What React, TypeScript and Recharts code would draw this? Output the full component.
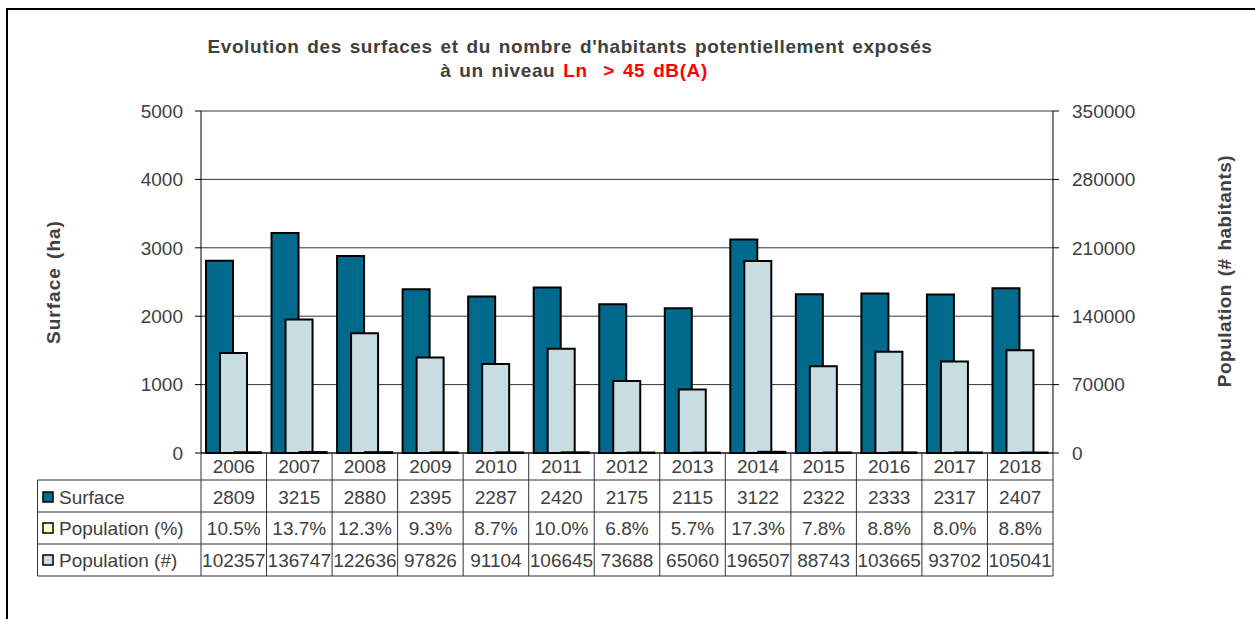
import { BarChart, Bar, XAxis, YAxis, CartesianGrid } from 'recharts'

const years = ['2006', '2007', '2008', '2009', '2010', '2011', '2012', '2013', '2014', '2015', '2016', '2017', '2018']
const surface = [2809, 3215, 2880, 2395, 2287, 2420, 2175, 2115, 3122, 2322, 2333, 2317, 2407]
const popPct = [10.5, 13.7, 12.3, 9.3, 8.7, 10.0, 6.8, 5.7, 17.3, 7.8, 8.8, 8.0, 8.8]
const popNb = [102357, 136747, 122636, 97826, 91104, 106645, 73688, 65060, 196507, 88743, 103665, 93702, 105041]
const leftTicks = [0, 1000, 2000, 3000, 4000, 5000]
const rightTicks = [0, 70000, 140000, 210000, 280000, 350000]

const data = years.map((year, i) => ({
  year,
  surface: surface[i],
  popPct: popPct[i],
  popNb: popNb[i],
}))

const TEXT = '#404040'
const FONT = '"Liberation Sans", Arial, sans-serif'
const TEAL = '#006a8c'
const LIGHT = '#c8dde1'
const PALE = '#ffffcc'
const LINE = '#333'

// table geometry (pixels)
const AXIS_Y = 453
const ROW_LINES = [480, 512, 544, 576]
const TABLE_LEFT = 37.5
const PLOT_RIGHT = 1053

function TableTick(props: any) {
  const { x, payload } = props
  const i = payload.index
  const half = payload.offset || 32.77
  const left = x - half
  const right = x + half
  const txt = { fill: TEXT, fontSize: 19, fontFamily: FONT, textAnchor: 'middle' as const }
  return (
    <g>
      <line x1={left} x2={left} y1={AXIS_Y} y2={ROW_LINES[3]} stroke={LINE} strokeWidth={1} />
      {i === years.length - 1 && (
        <line x1={right} x2={right} y1={AXIS_Y} y2={ROW_LINES[3]} stroke={LINE} strokeWidth={1} />
      )}
      <text x={x} y={473} {...txt}>{years[i]}</text>
      <text x={x} y={504} {...txt}>{surface[i]}</text>
      <text x={x} y={535} {...txt}>{popPct[i].toFixed(1)}%</text>
      <text x={x} y={567} {...txt}>{popNb[i]}</text>
    </g>
  )
}

export default function App() {
  const legendRows = [
    { label: 'Surface', color: TEAL, y: 504 },
    { label: 'Population (%)', color: PALE, y: 535 },
    { label: 'Population (#)', color: LIGHT, y: 567 },
  ]
  const bold = {
    fontWeight: 'bold' as const,
    fill: TEXT,
    fontFamily: FONT,
    textAnchor: 'middle' as const,
  }
  return (
    <div style={{ position: 'absolute', left: 0, top: 0, width: 1255, height: 619, background: '#fff', fontFamily: FONT }}>
      <div
        style={{
          position: 'absolute',
          left: 6,
          top: 8,
          width: 1255,
          height: 620,
          borderTop: '2px solid #000',
          borderLeft: '2px solid #000',
          boxSizing: 'border-box',
        }}
      />
      <div style={{ position: 'absolute', left: 0, top: 0 }}>
        <BarChart
          width={1255}
          height={619}
          data={data}
          margin={{ top: 111, right: 0, left: 0, bottom: 0 }}
          barSize={27}
          barGap={-13}
        >
          <CartesianGrid yAxisId="left" vertical={false} stroke={LINE} strokeWidth={1} />
          <XAxis
            dataKey="year"
            height={166}
            axisLine={{ stroke: '#000', strokeWidth: 1 }}
            tickLine={false}
            interval={0}
            tick={<TableTick />}
          />
          <YAxis
            yAxisId="left"
            orientation="left"
            width={201}
            domain={[0, 5000]}
            ticks={leftTicks}
            axisLine={{ stroke: '#000', strokeWidth: 1 }}
            tickLine={{ stroke: '#000' }}
            tickSize={6}
            tickMargin={12}
            tick={{ fill: TEXT, fontSize: 19, fontFamily: FONT }}
          />
          <YAxis
            yAxisId="right"
            orientation="right"
            width={202}
            domain={[0, 350000]}
            ticks={rightTicks}
            axisLine={{ stroke: '#000', strokeWidth: 1 }}
            tickLine={{ stroke: '#000' }}
            tickSize={6}
            tickMargin={13}
            tick={{ fill: TEXT, fontSize: 19, fontFamily: FONT }}
          />
          <Bar yAxisId="left" dataKey="surface" fill={TEAL} stroke="#000" strokeWidth={2} isAnimationActive={false} />
          <Bar yAxisId="right" dataKey="popNb" fill={LIGHT} stroke="#000" strokeWidth={2} isAnimationActive={false} />
          <Bar yAxisId="left" dataKey="popPct" fill={PALE} stroke="#000" strokeWidth={2} isAnimationActive={false} />
        </BarChart>
      </div>
      <svg width={1255} height={619} style={{ position: 'absolute', left: 0, top: 0, pointerEvents: 'none' }}>
        <text x={570} y={53} fontSize={19} letterSpacing={0.6} wordSpacing={2} {...bold}>
          Evolution des surfaces et du nombre d'habitants potentiellement exposés
        </text>
        <text x={574} y={77} fontSize={19} letterSpacing={0.6} wordSpacing={2} {...bold}>
          à un niveau <tspan fill="#ff0000">{'Ln\u00a0\u00a0> 45 dB(A)'}</tspan>
        </text>
        <text transform="translate(60,282) rotate(-90)" fontSize={19} letterSpacing={1} wordSpacing={2} {...bold}>
          Surface (ha)
        </text>
        <text transform="translate(1231,271) rotate(-90)" fontSize={19} letterSpacing={0.5} wordSpacing={2} {...bold}>
          Population (# habitants)
        </text>
        {ROW_LINES.map((y) => (
          <line key={y} x1={TABLE_LEFT} x2={PLOT_RIGHT} y1={y} y2={y} stroke={LINE} strokeWidth={1} />
        ))}
        <line x1={TABLE_LEFT} x2={TABLE_LEFT} y1={ROW_LINES[0]} y2={ROW_LINES[3]} stroke={LINE} strokeWidth={1} />
        {legendRows.map((r) => (
          <g key={r.label}>
            <rect x={43} y={r.y - 12} width={10} height={10} fill={r.color} stroke="#000" strokeWidth={1.5} />
            <text x={59} y={r.y} fontSize={19} fill={TEXT} fontFamily={FONT}>
              {r.label}
            </text>
          </g>
        ))}
      </svg>
    </div>
  )
}
